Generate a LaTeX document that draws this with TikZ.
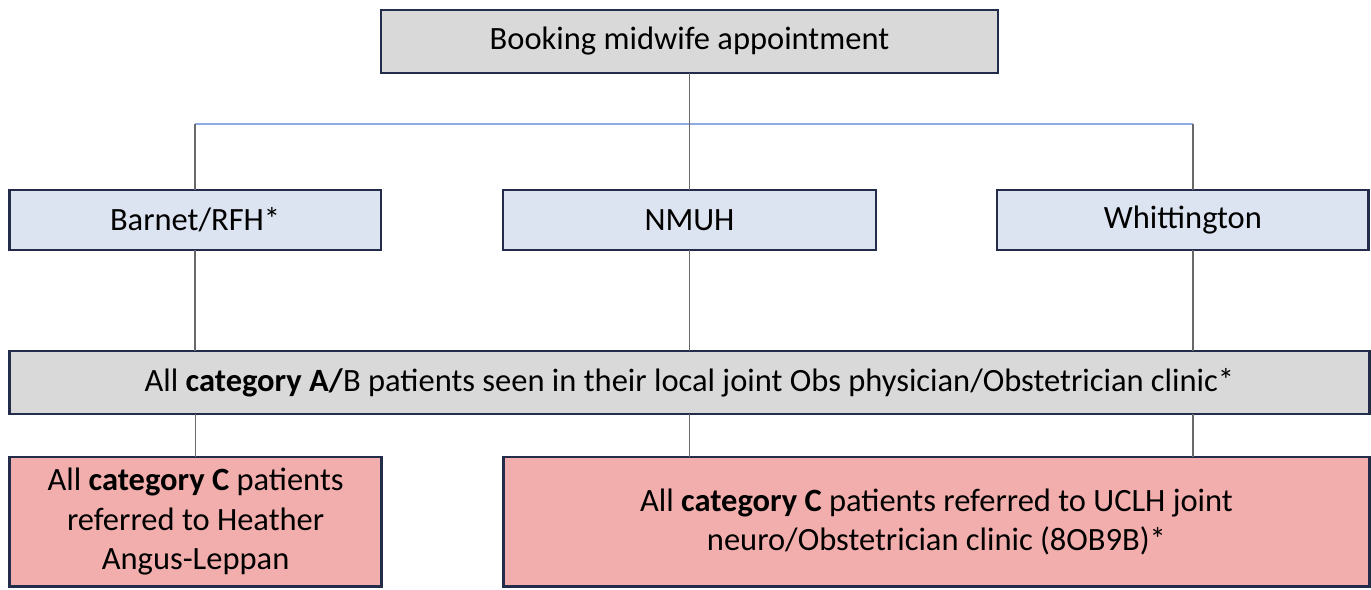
\documentclass[tikz,border=0pt]{standalone}
\usepackage{fontspec}
\setmainfont{Carlito}
\usepackage{xcolor}
\definecolor{boxnavy}{RGB}{35, 45, 75}
\definecolor{boxgrey}{RGB}{217, 217, 217}
\definecolor{boxblue}{RGB}{220, 227, 241}
\definecolor{boxpink}{RGB}{242, 174, 172}
\definecolor{barblue}{RGB}{143, 170, 220}
\definecolor{linkgrey}{RGB}{105, 105, 105}
\usetikzlibrary{positioning}

\begin{document}
\begin{tikzpicture}[x=0.02cm, y=-0.02cm,
    every node/.style={font=\fontsize{18.5}{22.5}\selectfont},
    box/.style={draw=boxnavy, line width=1.6pt, rectangle, align=center, inner sep=4pt, outer sep=0pt},
    link/.style={draw=linkgrey, line width=0.8pt},
    barline/.style={draw=barblue, line width=0.9pt}]
    \useasboundingbox (0,0) rectangle (1371,590);

    \node [box, fill=boxgrey, minimum width=12.34cm, minimum height=1.26cm] (book) at (689.5,41.5) {Booking midwife appointment};

    \node [box, fill=boxblue, minimum width=7.46cm, minimum height=1.2cm, below=2.34cm of book] (nmuh) {NMUH};
    \node [box, fill=boxblue, minimum width=7.44cm, minimum height=1.2cm, left=2.44cm of nmuh] (barnet) {Barnet/RFH*};
    \node [box, fill=boxblue, minimum width=7.44cm, minimum height=1.2cm, right=2.42cm of nmuh] (whit) {Whittington};

    \node [box, fill=boxgrey, minimum width=27.2cm, minimum height=1.26cm, below=2.02cm of nmuh] (catab) {All \textbf{category A/}B patients seen in their local joint Obs physician/Obstetrician clinic*};

    \node [box, fill=boxpink, minimum width=7.44cm, minimum height=2.6cm, below right=0.86cm and 0cm of catab.south west] (catcl) {All \textbf{category C} patients\\ referred to Heather\\ Angus-Leppan};
    \node [box, fill=boxpink, minimum width=17.32cm, minimum height=2.6cm, below left=0.86cm and 0cm of catab.south east] (catcr) {All \textbf{category C} patients referred to UCLH joint\\ neuro/Obstetrician clinic (8OB9B)*};

    % split bar under the booking box
    \coordinate (bar) at (689.5,124);
    \coordinate (wtop) at ([xshift=0.2cm]whit.north);
    \coordinate (wbot) at ([xshift=0.2cm]whit.south);
    \draw [barline] (barnet.north |- bar) -- (wtop |- bar);
    \draw [link] (book.south) -- (nmuh.north);
    \draw [link] (barnet.north |- bar) -- (barnet.north);
    \draw [link] (wtop |- bar) -- (wtop);

    \draw [link] (barnet.south) -- (barnet.south |- catab.north);
    \draw [link] (nmuh.south) -- (nmuh.south |- catab.north);
    \draw [link] (wbot) -- (wbot |- catab.north);

    \draw [link] (catcl.north |- catab.south) -- (catcl.north);
    \draw [link] (nmuh.south |- catab.south) -- (nmuh.south |- catcr.north);
    \draw [link] (wbot |- catab.south) -- (wbot |- catcr.north);
\end{tikzpicture}
\end{document}
